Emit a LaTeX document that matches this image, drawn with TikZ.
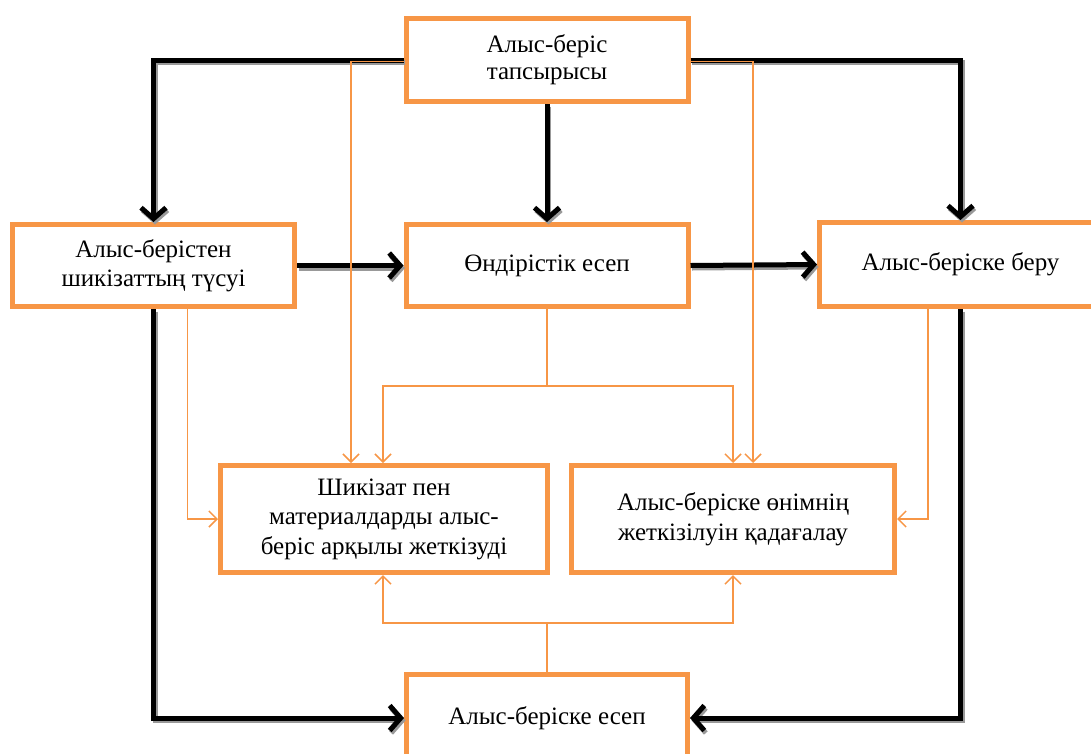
\documentclass[tikz,border=0pt]{standalone}
\usepackage{fontspec}
\setmainfont{Liberation Serif}
\newfontfamily\boxfont{Liberation Serif}
\usetikzlibrary{arrows.meta,calc}
\definecolor{boxorange}{HTML}{F79646}
\begin{document}
\begin{tikzpicture}[x=1pt,y=-1pt,
  box/.style={draw=boxorange, line width=5pt, fill=white, align=center,
    font=\boxfont\fontsize{25}{29.5}\selectfont, inner sep=0pt},
  blk/.style={line width=5pt, -{Straight Barb[length=11pt,width=25pt]},
    preaction={draw=black!40, line width=5pt,
      transform canvas={xshift=1.5pt,yshift=-2.5pt}}},
  thin/.style={draw=boxorange, line width=1.5pt,
    -{Straight Barb[length=8pt,width=16pt]}},
  link/.style={draw=boxorange, line width=1.5pt}
]
\useasboundingbox (0,0) rectangle (1091,753);
\clip (0,0) rectangle (1091,753);

% boxes
\node[box, minimum width=282pt, minimum height=83pt,
  font=\boxfont\fontsize{25}{27}\selectfont] (top) at (547,60) {Алыс-беріс\\тапсырысы};
\node[box, minimum width=282pt, minimum height=82pt] (left) at (153.5,265.5)
  {Алыс-берістен\\шикізаттың түсуі};
\node[box, minimum width=282pt, minimum height=82pt] (mid) at (547,265.5)
  {Өндірістік есеп};
\node[box, minimum width=282pt, minimum height=84pt] (right) at (960.5,264.5)
  {Алыс-беріске беру};
\node[box, minimum width=327pt, minimum height=107pt] (sh) at (384,519)
  {Шикізат пен\\материалдарды алыс-\\беріс арқылы жеткізуді};
\node[box, minimum width=323pt, minimum height=107pt] (on) at (733,519)
  {Алыс-беріске өнімнің\\жеткізілуін қадағалау};
\node[box, minimum width=281pt, minimum height=87pt] (acc) at (547,718)
  {Алыс-беріске есеп};

% main flow
\draw[blk] (top.west) -| (left.north);
\draw[blk] (top.east) -| (right.north);
\draw[blk] (top.south) -- (mid.north);
\draw[blk] (left.east) -- (mid.west);
\draw[blk] (mid.east) -- (right.west);
\draw[blk] (left.south) |- (acc.west);
\draw[blk] (right.south) |- (acc.east);

% control links
\draw[thin] ([yshift=-1.5pt]top.west) -| ([xshift=-33pt]sh.north);
\draw[thin] ([yshift=-1.5pt]top.east) -| ([xshift=20pt]on.north);
\coordinate (ms) at ($(mid.south)+(0,77)$);
\draw[link] (mid.south) -- (ms);
\draw[thin] (ms) -| ([xshift=-1pt]sh.north);
\draw[thin] (ms) -| (on.north);
\draw[thin] ([xshift=34pt]left.south) |- (sh.west);
\draw[thin] ([xshift=-32.5pt]right.south) |- (on.east);
\coordinate (as) at ($(acc.north)+(0,-49)$);
\draw[link] (acc.north) -- (as);
\draw[thin] (as) -| ([xshift=-1pt]sh.south);
\draw[thin] (as) -| (on.south);
\end{tikzpicture}
\end{document}
